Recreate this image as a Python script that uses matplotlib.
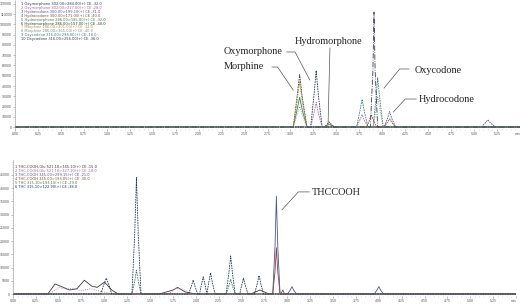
import matplotlib

matplotlib.use("Agg")
import matplotlib.pyplot as plt
from matplotlib.ticker import FixedLocator, MultipleLocator

W, H = 520, 307

# ---- top panel: opioid MRM traces (time in min, intensity in counts) ----
TOP_LABELS = [
    "1 Oxymorphone 302.00>284.00(+) CE -32.0",
    "2 Oxymorphone 302.00>227.00(+) CE -28.0",
    "3 Hydrocodone 300.00>199.10(+) CE -31.0",
    "4 Hydrocodone 300.00>171.00(+) CE -40.0",
    "5 Hydromorphone 286.00>185.00(+) CE -32.0",
    "6 Hydromorphone 286.00>157.00(+) CE -40.0",
    "7 Morphine 286.00>201.00(+) CE -32.0",
    "8 Morphine 286.00>165.00(+) CE -40.0",
    "9 Oxycodone 316.00>298.00(+) CE -18.0",
    "10 Oxycodone 316.00>256.00(+) CE -36.0",
]
TOP_COLORS = ["#2a3560", "#b8609a", "#4a55a0", "#8f4535", "#3a8050",
              "#3a3a3a", "#a09a40", "#8a8a8a", "#3a8080", "#3a3a55"]

top_t1 = [0, 3.22, 3.255, 3.28, 3.305, 3.345, 5.5]
top_y1 = [0, 0, 30000, 55000, 30000, 0, 0]
top_t2 = [0, 3.22, 3.255, 3.28, 3.305, 3.345, 3.72, 3.755, 3.78, 3.805, 3.845, 5.5]
top_y2 = [0, 0, 13000, 24000, 13000, 0, 0, 6500, 12000, 6500, 0, 0]
top_t3 = [0, 4.02, 4.055, 4.08, 4.105, 4.145, 5.08, 5.12, 5.15, 5.18, 5.23, 5.5]
top_y3 = [0, 0, 8000, 15000, 8000, 0, 0, 3800, 7000, 3800, 0, 0]
top_t4 = [0, 3.83, 3.86, 3.88, 3.905, 3.94, 4.02, 4.055, 4.08, 4.105, 4.145, 5.5]
top_y4 = [0, 0, 6500, 12000, 6500, 0, 0, 4300, 8000, 4300, 0, 0]
top_t5 = [0, 3.03, 3.07, 3.10, 3.13, 3.18, 3.37, 3.40, 3.42, 3.445, 3.48, 5.5]
top_y5 = [0, 0, 16000, 29000, 16000, 0, 0, 1600, 3000, 1600, 0, 0]
top_t6 = [0, 3.03, 3.07, 3.10, 3.13, 3.18, 3.37, 3.40, 3.42, 3.445, 3.48, 5.5]
top_y6 = [0, 0, 28000, 51000, 28000, 0, 0, 2700, 5000, 2700, 0, 0]
top_t7 = [0, 3.03, 3.07, 3.10, 3.13, 3.18, 3.37, 3.40, 3.42, 3.445, 3.48, 5.5]
top_y7 = [0, 0, 24000, 44000, 24000, 0, 0, 1400, 2500, 1400, 0, 0]
top_t8 = [0, 3.03, 3.07, 3.10, 3.13, 3.18, 3.90, 3.93, 3.95, 3.975, 4.01, 5.5]
top_y8 = [0, 0, 11000, 20000, 11000, 0, 0, 16000, 30000, 16000, 0, 0]
top_t9 = [0, 3.72, 3.755, 3.78, 3.805, 3.845, 3.90, 3.93, 3.95, 3.975, 4.01, 5.5]
top_y9 = [0, 0, 15000, 27000, 15000, 0, 0, 26000, 48000, 26000, 0, 0]
top_t10 = [0, 3.87, 3.898, 3.91, 3.922, 3.95, 5.5]
top_y10 = [0, 0, 55000, 112000, 55000, 0, 0]

TOP_T = [top_t1, top_t2, top_t3, top_t4, top_t5, top_t6, top_t7, top_t8, top_t9, top_t10]
TOP_Y = [top_y1, top_y2, top_y3, top_y4, top_y5, top_y6, top_y7, top_y8, top_y9, top_y10]
TOP_STYLES = ["--", "--", "--", "--", "-", "--", "--", ":", "--", "-."]

# compound labels: text position, leader points (time, counts)
TOP_NAMES = ["Morphine", "Oxymorphone", "Hydromorphone", "Oxycodone", "Hydrocodone"]
TOP_NAME_XY = [(2.27, 59500), (2.27, 73200), (3.41, 83500), (4.35, 55600), (4.40, 27300)]
TOP_NAME_HA = ["left", "left", "center", "left", "left"]
TOP_LEADER_T = [[2.80, 2.86, 3.03], [2.96, 3.05, 3.21], [3.43, 3.41],
                [4.29, 4.19, 4.02], [4.37, 4.25, 4.12]]
TOP_LEADER_Y = [[58500, 58500, 36100], [73200, 73200, 45900], [77000, 3900],
                [56600, 56600, 38000], [27300, 27300, 14600]]

# ---- bottom panel: cannabinoid MRM traces ----
BOT_LABELS = [
    "1 THC-COOH-Glu 521.10>345.10(+) CE -15.0",
    "2 THC-COOH-Glu 521.10>327.10(+) CE -18.0",
    "3 THC-COOH 345.00>299.15(+) CE -21.0",
    "4 THC-COOH 345.00>193.05(+) CE -30.0",
    "5 THC 315.10>193.10(+) CE -29.0",
    "6 THC 315.10>122.90(+) CE -38.0",
]
BOT_COLORS = ["#3a3a3a", "#b8609a", "#4a55a0", "#8f4535", "#3a8050", "#2a3560"]

bot_t1 = [0, 0.38, 0.46, 0.55, 0.62, 0.70, 0.78, 0.86, 0.92, 1.00, 1.08, 1.15,
          1.60, 1.75, 1.80, 1.88, 2.00, 2.60, 2.70, 2.80, 5.5]
bot_y1 = [0, 0, 3800, 2500, 1500, 2000, 5200, 3000, 2500, 4500, 1500, 0,
          0, 1500, 2500, 800, 0, 0, 1500, 0, 0]
bot_t2 = [0, 0.40, 0.50, 0.58, 0.66, 0.74, 0.85, 0.95, 1.10, 1.70, 1.78, 1.86, 1.95, 5.5]
bot_y2 = [0, 0, 2500, 1800, 2200, 1200, 2000, 1000, 0, 0, 2200, 1800, 0, 0]
bot_t3 = [0, 2.84, 2.865, 2.88, 2.895, 2.92, 3.00, 3.03, 3.05, 3.07, 3.10,
          3.95, 3.98, 4.00, 4.02, 4.05, 5.5]
bot_y3 = [0, 0, 18000, 37000, 18000, 0, 0, 1400, 2800, 1400, 0,
          0, 1500, 2800, 1500, 0, 0]
bot_t4 = [0, 2.84, 2.865, 2.88, 2.895, 2.92, 2.93, 2.95, 2.97, 5.5]
bot_y4 = [0, 0, 8500, 17500, 8500, 0, 0, 1500, 0, 0]
bot_t5 = [0, 1.30, 1.33, 1.35, 1.37, 1.40, 2.33, 2.36, 2.38, 2.40, 2.43, 5.5]
bot_y5 = [0, 0, 4800, 9000, 4800, 0, 0, 3000, 5500, 3000, 0, 0]
bot_t6 = [0, 0.96, 0.99, 1.02, 1.05, 1.08, 1.30, 1.33, 1.35, 1.37, 1.40,
          1.92, 1.95, 1.97, 1.99, 2.02, 2.04, 2.06, 2.08, 2.10, 2.12,
          2.14, 2.16, 2.18, 2.21, 2.33, 2.36, 2.38, 2.40, 2.43,
          2.48, 2.50, 2.52, 2.54, 2.57, 2.64, 2.67, 2.69, 2.71, 2.74, 5.5]
bot_y6 = [0, 0, 3300, 6000, 3300, 0, 0, 22000, 44000, 22000, 0,
          0, 2900, 5300, 2900, 0, 0, 3500, 6500, 3500, 0,
          4300, 8000, 4300, 0, 0, 7800, 14400, 7800, 0,
          0, 3300, 6000, 3300, 0, 0, 3800, 7000, 3800, 0, 0]

BOT_T = [bot_t1, bot_t2, bot_t3, bot_t4, bot_t5, bot_t6]
BOT_Y = [bot_y1, bot_y2, bot_y3, bot_y4, bot_y5, bot_y6]
BOT_STYLES = ["-", ":", "-", "-", "--", "--"]

BOT_NAME = "THCCOOH"
BOT_NAME_XY = (3.27, 38200)
BOT_LEADER_T = [3.24, 3.12, 2.94]
BOT_LEADER_Y = [38600, 38600, 31800]

X_TICKS = [i * 0.25 for i in range(23)]
X_LABELS = [f"{v:.2f}" for v in X_TICKS[:-1]] + ["min"]


def px_axes(fig, left, top, right, bottom):
    return fig.add_axes([left / W, 1 - bottom / H, (right - left) / W, (bottom - top) / H])


def style_axis(ax, ymax, ystep):
    for side in ("top", "right", "bottom"):
        ax.spines[side].set_visible(False)
    ax.spines["left"].set_linewidth(0.4)
    ax.spines["left"].set_color("#9a9a9a")
    ax.set_xlim(0, 5.5)
    ax.xaxis.set_major_locator(FixedLocator(X_TICKS))
    ax.set_xticklabels(X_LABELS)
    ax.get_xticklabels()[-1].set_horizontalalignment("right")
    ax.xaxis.set_minor_locator(MultipleLocator(0.05))
    ax.set_yticks(list(range(0, ymax + 1, ystep)))
    ax.set_yticklabels([str(v) for v in range(0, ymax + 1, ystep)])
    ax.yaxis.set_minor_locator(MultipleLocator(ystep / 5))
    ax.tick_params(which="major", length=1.2, width=0.4, color="#888888",
                   labelsize=2.5, labelcolor="#555555", pad=0.8)
    ax.tick_params(which="minor", length=0.7, width=0.3, color="#aaaaaa")
    for lab in ax.get_xticklabels() + ax.get_yticklabels():
        lab.set_family("Liberation Sans")
    ax.patch.set_alpha(0)


def draw_traces(ax, times, values, colors, styles):
    for t, y, c, ls in zip(times, values, colors, styles):
        line, = ax.plot(t, y, color=c, linestyle=ls, linewidth=0.6)
        if ls == "--":
            line.set_dashes((2, 1))


fig = plt.figure(figsize=(W / 100, H / 100), dpi=100)

# top panel
ax = px_axes(fig, 15, 0, 520, 129)
ax.set_ylim(-1950, 123900)
draw_traces(ax, TOP_T, TOP_Y, TOP_COLORS, TOP_STYLES)
style_axis(ax, 120000, 10000)
for name, (tx, ty), ha, lt, ly in zip(TOP_NAMES, TOP_NAME_XY, TOP_NAME_HA, TOP_LEADER_T, TOP_LEADER_Y):
    ax.text(tx, ty, name, ha=ha, va="center", fontsize=7.4,
            family="Liberation Serif", color="#222222")
    ax.plot(lt, ly, color="#555555", linewidth=0.5)
for i, (label, c) in enumerate(zip(TOP_LABELS, TOP_COLORS)):
    fig.text(21 / W, 1 - (4 + 3.9 * i) / H, label, fontsize=2.6, color=c, va="center")

# bottom panel
ax = px_axes(fig, 13, 160, 516, 296)
ax.set_ylim(-756, 50670)
draw_traces(ax, BOT_T, BOT_Y, BOT_COLORS, BOT_STYLES)
style_axis(ax, 45000, 5000)
ax.text(*BOT_NAME_XY, BOT_NAME, ha="left", va="center", fontsize=7.4,
        family="Liberation Serif", color="#222222")
ax.plot(BOT_LEADER_T, BOT_LEADER_Y, color="#555555", linewidth=0.5)
for i, (label, c) in enumerate(zip(BOT_LABELS, BOT_COLORS)):
    fig.text(15 / W, 1 - (166.5 + 4.1 * i) / H, label, fontsize=2.6, color=c, va="center")

fig.savefig("out.png", dpi=100)
